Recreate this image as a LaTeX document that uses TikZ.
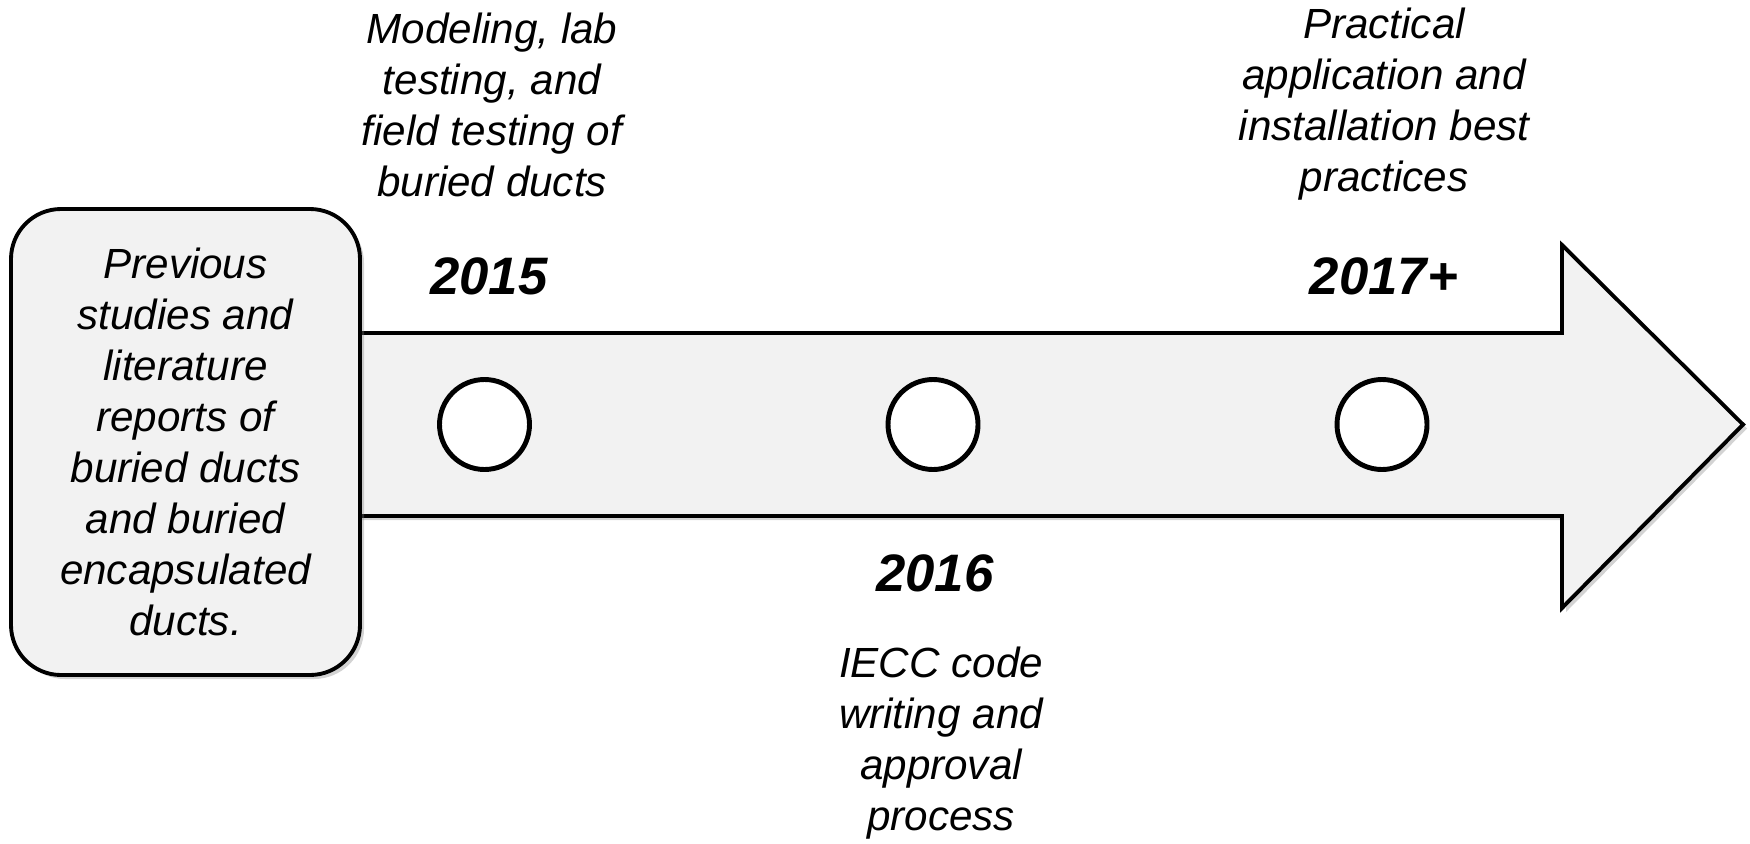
\documentclass[tikz,border=0pt]{standalone}
\usepackage{fontspec}
\setmainfont{Liberation Sans}
\usetikzlibrary{shadows,positioning}
\definecolor{pale}{HTML}{F2F2F2}
\tikzstyle{note} = [align=center, font=\itshape\fontsize{12}{14.5}\selectfont]
\tikzstyle{year} = [font=\bfseries\itshape\fontsize{15}{18}\selectfont]
\tikzstyle{dot} = [circle, draw=black, line width=1.4pt, fill=white, minimum size=0.9cm, inner sep=0pt]
\tikzstyle{softshadow} = [drop shadow={shadow xshift=0.04cm, shadow yshift=-0.04cm, opacity=0.35}]
\tikzstyle{prevbox} = [rectangle, rounded corners=0.5cm, draw=black, line width=1.1pt, fill=pale, minimum width=3.49cm, minimum height=4.66cm, softshadow, note]

\begin{document}
\begin{tikzpicture}
\useasboundingbox (0,0) rectangle (17.5,-8.43);
% timeline arrow
\draw[line width=1.1pt, fill=pale, softshadow] (3,-3.33) -- (15.62,-3.33) -- (15.62,-2.45) -- (17.43,-4.245) -- (15.62,-6.08) -- (15.62,-5.16) -- (3,-5.16) -- cycle;
\node[prevbox] (prev) at (1.855,-4.42) {Previous\\studies and\\literature\\reports of\\buried ducts\\and buried\\encapsulated\\ducts.};
% milestones
\foreach \x/\n in {4.845/a,9.33/b,13.82/c}
	\node[dot] (dot\n) at (\x,-4.245) {};
\node[year] (y15) at (4.89,-2.76) {2015};
\node[year] (y16) at (9.35,-5.73) {2016};
\node[year] (y17) at (13.84,-2.76) {2017+};
\node[note] (modeling) at (4.92,-1.045) {Modeling, lab\\testing, and\\field testing of\\buried ducts};
\node[note] (practical) at (13.84,-1.045) {Practical\\application and\\installation best\\practices};
\node[note] (iecc) at (9.41,-7.435) {IECC code\\writing and\\approval\\process};
\end{tikzpicture}
\end{document}
